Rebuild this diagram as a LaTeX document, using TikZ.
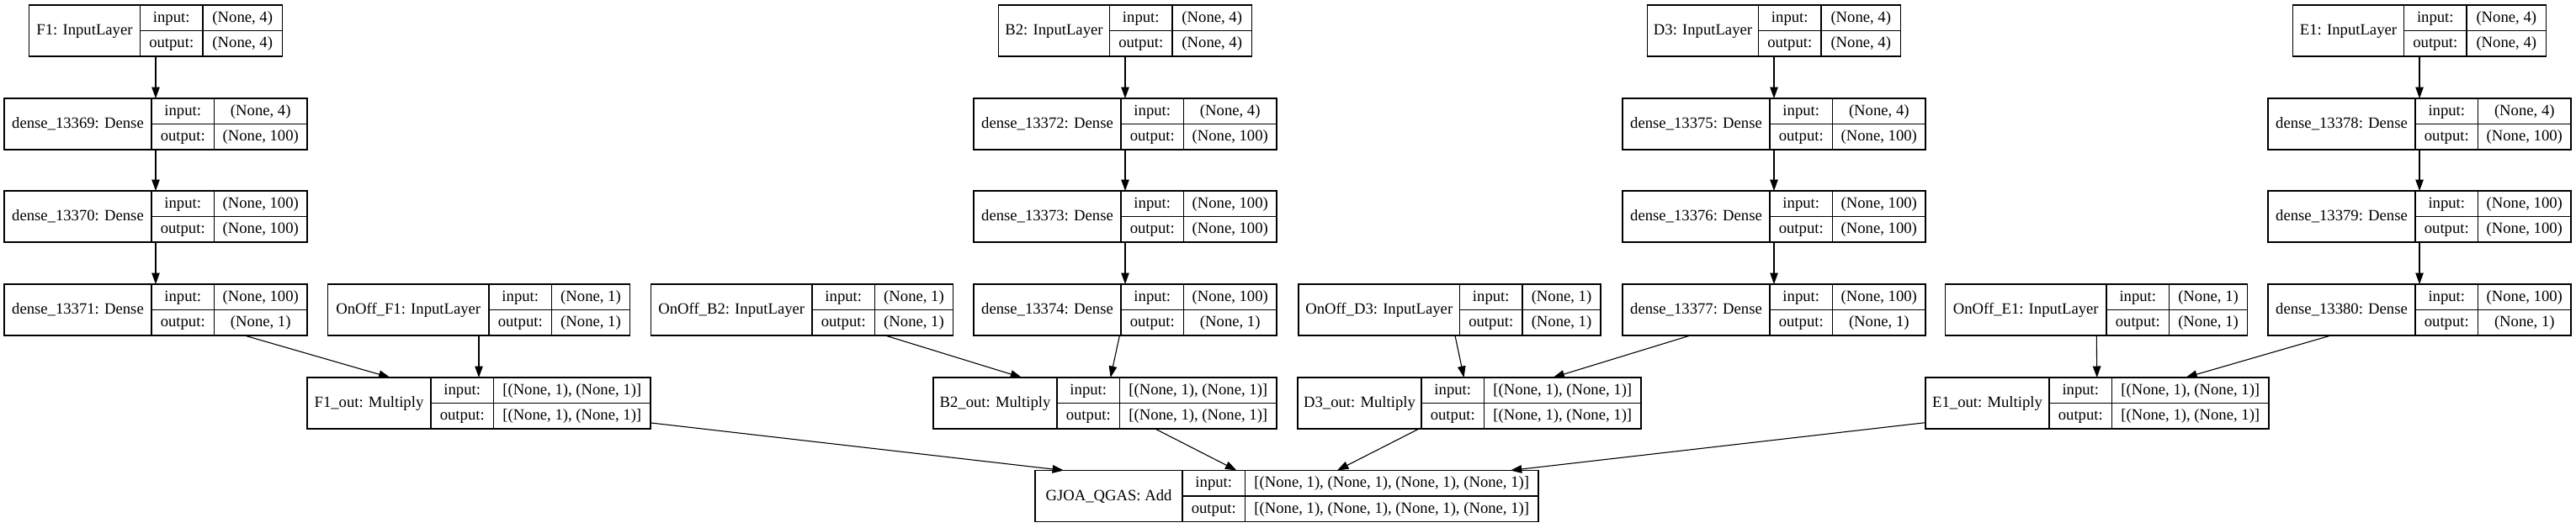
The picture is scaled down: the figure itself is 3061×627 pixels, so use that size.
\documentclass[tikz,border=0pt]{standalone}
\usepackage{fontspec}
\setmainfont{Liberation Serif}
\usepackage{tikz}
\usetikzlibrary{arrows.meta, calc}

% record box: name, centre, label, input shape, output shape, label width, shape width
\newcommand{\layer}[7]{%
  \node[rec, minimum width={(#6+74.5+#7)*1pt}] (#1) at (#2) {};
  \draw[sep] ($(#1.north west)+(#6,0)$) -- ($(#1.south west)+(#6,0)$);
  \draw[sep] ($(#1.north west)+(#6+74.5,0)$) -- ($(#1.south west)+(#6+74.5,0)$);
  \draw[sep] ($(#1.west)+(#6,0)$) -- (#1.east);
  \node[lbl] at ($(#1.west)+(#6/2,0)$) {#3};
  \node[lbl] at ($(#1.west)+(#6+37.25,15.25)$) {input:};
  \node[lbl] at ($(#1.west)+(#6+37.25,-15.25)$) {output:};
  \node[lbl] at ($(#1.west)+(#6+74.5+#7/2,15.25)$) {#4};
  \node[lbl] at ($(#1.west)+(#6+74.5+#7/2,-15.25)$) {#5};
}

\begin{document}
\begin{tikzpicture}[
    x=1pt, y=1pt,
    rec/.style={rectangle, draw, line width=1.3pt, minimum height=61pt, inner sep=0pt, outer sep=0pt},
    sep/.style={line width=1.3pt},
    lbl/.style={inner sep=0pt, font=\fontsize{18.67}{22}\selectfont, text height=13pt, text depth=3pt},
    link/.style={-{Triangle[length=13.5pt, width=9.5pt]}, line width=1.1pt}
]
\useasboundingbox (0,0) rectangle (3061,-627);

% inputs
\layer{f1}{185,-36.5}{F1: InputLayer}{(None, 4)}{(None, 4)}{132}{94.5}
\layer{b2}{1337,-36.5}{B2: InputLayer}{(None, 4)}{(None, 4)}{132}{94.5}
\layer{d3}{2108,-36.5}{D3: InputLayer}{(None, 4)}{(None, 4)}{132}{94.5}
\layer{e1}{2875,-36.5}{E1: InputLayer}{(None, 4)}{(None, 4)}{132}{94.5}

% dense stacks
\layer{d13369}{185,-147.5}{dense\_13369: Dense}{(None, 4)}{(None, 100)}{175}{110.5}
\layer{d13370}{185,-257.5}{dense\_13370: Dense}{(None, 100)}{(None, 100)}{175}{110.5}
\layer{d13371}{185,-368.5}{dense\_13371: Dense}{(None, 100)}{(None, 1)}{175}{110.5}
\layer{d13372}{1337,-147.5}{dense\_13372: Dense}{(None, 4)}{(None, 100)}{175}{110.5}
\layer{d13373}{1337,-257.5}{dense\_13373: Dense}{(None, 100)}{(None, 100)}{175}{110.5}
\layer{d13374}{1337,-368.5}{dense\_13374: Dense}{(None, 100)}{(None, 1)}{175}{110.5}
\layer{d13375}{2108,-147.5}{dense\_13375: Dense}{(None, 4)}{(None, 100)}{175}{110.5}
\layer{d13376}{2108,-257.5}{dense\_13376: Dense}{(None, 100)}{(None, 100)}{175}{110.5}
\layer{d13377}{2108,-368.5}{dense\_13377: Dense}{(None, 100)}{(None, 1)}{175}{110.5}
\layer{d13378}{2875,-147.5}{dense\_13378: Dense}{(None, 4)}{(None, 100)}{175}{110.5}
\layer{d13379}{2875,-257.5}{dense\_13379: Dense}{(None, 100)}{(None, 100)}{175}{110.5}
\layer{d13380}{2875,-368.5}{dense\_13380: Dense}{(None, 100)}{(None, 1)}{175}{110.5}

% on/off switches
\layer{onf1}{569,-368.5}{OnOff\_F1: InputLayer}{(None, 1)}{(None, 1)}{191.5}{93}
\layer{onb2}{953,-368.5}{OnOff\_B2: InputLayer}{(None, 1)}{(None, 1)}{191.5}{93}
\layer{ond3}{1722.5,-368.5}{OnOff\_D3: InputLayer}{(None, 1)}{(None, 1)}{191.5}{93}
\layer{one1}{2491,-368.5}{OnOff\_E1: InputLayer}{(None, 1)}{(None, 1)}{191.5}{93}

% products
\layer{f1out}{569,-479.5}{F1\_out: Multiply}{[(None, 1), (None, 1)]}{[(None, 1), (None, 1)]}{147}{186.5}
\layer{b2out}{1313,-479.5}{B2\_out: Multiply}{[(None, 1), (None, 1)]}{[(None, 1), (None, 1)]}{147}{186.5}
\layer{d3out}{1746,-479.5}{D3\_out: Multiply}{[(None, 1), (None, 1)]}{[(None, 1), (None, 1)]}{147}{186.5}
\layer{e1out}{2492,-479.5}{E1\_out: Multiply}{[(None, 1), (None, 1)]}{[(None, 1), (None, 1)]}{147}{186.5}

% sum
\layer{add}{1529,-590}{GJOA\_QGAS: Add}{[(None, 1), (None, 1), (None, 1), (None, 1)]}{[(None, 1), (None, 1), (None, 1), (None, 1)]}{175}{348.5}

% connectors
\draw[link] (f1) -- (d13369);
\draw[link] (d13369) -- (d13370);
\draw[link] (d13370) -- (d13371);
\draw[link] (d13371) -- (f1out);
\draw[link] (onf1) -- (f1out);
\draw[link] (b2) -- (d13372);
\draw[link] (d13372) -- (d13373);
\draw[link] (d13373) -- (d13374);
\draw[link] (d13374) -- (b2out);
\draw[link] (onb2) -- (b2out);
\draw[link] (d3) -- (d13375);
\draw[link] (d13375) -- (d13376);
\draw[link] (d13376) -- (d13377);
\draw[link] (d13377) -- (d3out);
\draw[link] (ond3) -- (d3out);
\draw[link] (e1) -- (d13378);
\draw[link] (d13378) -- (d13379);
\draw[link] (d13379) -- (d13380);
\draw[link] (d13380) -- (e1out);
\draw[link] (one1) -- (e1out);
\draw[link] (f1out) -- (add);
\draw[link] (b2out) -- (add);
\draw[link] (d3out) -- (add);
\draw[link] (e1out) -- (add);
\end{tikzpicture}
\end{document}
